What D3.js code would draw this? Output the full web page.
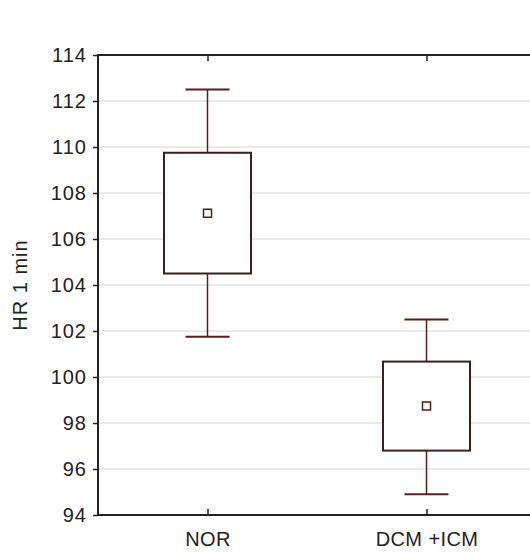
<!DOCTYPE html>
<html>
<head>
<meta charset="utf-8">
<script src="https://cdn.jsdelivr.net/npm/d3@7"></script>
<style>
  html, body { margin: 0; padding: 0; background: #fff; }
  svg { display: block; }
  text { font-family: "Liberation Sans", Arial, sans-serif; fill: #222; }
</style>
</head>
<body>
<svg id="chart" width="530" height="554"></svg>
<script>
// Heart rate after 1 minute, by group: mean, mean ± SE (box), mean ± 1.96·SE (whiskers)
const categories = ["NOR", "DCM +ICM"];
const means      = [107.12, 98.74];
const boxLow     = [104.5, 96.8];
const boxHigh    = [109.75, 100.67];
const whiskerLow = [101.75, 94.9];
const whiskerHigh= [112.5, 102.5];
const yTicks     = [94, 96, 98, 100, 102, 104, 106, 108, 110, 112, 114];
const yLabel     = "HR 1 min";

const svg = d3.select("#chart");
const margin = { left: 98, top: 55, right: -6, bottom: 39 };
const W = 530, H = 554;
const x0 = margin.left, x1 = W - margin.right;
const y0 = H - margin.bottom, y1 = margin.top;

const x = d3.scalePoint().domain(categories).range([x0, x1]).padding(0.5);
const y = d3.scaleLinear().domain([94, 114]).range([y0, y1]);

const boxColor = "#3c1e1e";
const whiskColor = "#5a1c1c";

// grid
svg.append("g")
  .selectAll("line").data(yTicks.filter(t => t !== 94 && t !== 114)).join("line")
  .attr("x1", x0).attr("x2", x1)
  .attr("y1", d => y(d)).attr("y2", d => y(d))
  .attr("stroke", "#d4d4d4").attr("stroke-width", 1);

// left axis
const yAxis = d3.axisLeft(y).tickValues(yTicks).tickSize(5).tickPadding(6).tickFormat(d3.format("d"));
const gy = svg.append("g").attr("transform", `translate(${x0},0)`).call(yAxis);
gy.select(".domain").remove();
gy.selectAll(".tick line").attr("stroke", "#222").attr("stroke-width", 1.5);
gy.selectAll(".tick text").attr("font-size", 20).attr("letter-spacing", "1px").attr("fill", "#222");

// bottom axis (ticks pointing inward)
const xAxis = d3.axisBottom(x).tickSize(-6).tickPadding(17);
const gx = svg.append("g").attr("transform", `translate(0,${y0})`).call(xAxis);
gx.select(".domain").remove();
gx.selectAll(".tick line").attr("stroke", "#222").attr("stroke-width", 1.5);
gx.selectAll(".tick text").attr("font-size", 20).attr("letter-spacing", "0.4px").attr("fill", "#222");

// top ticks pointing inward
const gt = svg.append("g").attr("transform", `translate(0,${y1})`).call(d3.axisTop(x).tickSize(-6).tickFormat(""));
gt.select(".domain").remove();
gt.selectAll(".tick line").attr("stroke", "#222").attr("stroke-width", 1.5);

// frame
svg.append("line").attr("x1", x0).attr("x2", x0).attr("y1", y1 - 1).attr("y2", y0 + 1)
  .attr("stroke", "#222").attr("stroke-width", 2);
svg.append("line").attr("x1", x0).attr("x2", x1).attr("y1", y0).attr("y2", y0)
  .attr("stroke", "#222").attr("stroke-width", 2);
svg.append("line").attr("x1", x0).attr("x2", x1).attr("y1", y1).attr("y2", y1)
  .attr("stroke", "#222").attr("stroke-width", 2);

// boxes and whiskers
const boxW = 87, capW = 44, meanS = 8;
const data = categories.map((c, i) => ({
  c, m: means[i], bl: boxLow[i], bh: boxHigh[i], wl: whiskerLow[i], wh: whiskerHigh[i]
}));
const g = svg.append("g").selectAll("g").data(data).join("g")
  .attr("transform", d => `translate(${x(d.c)},0)`);

g.append("line").attr("x1", 0).attr("x2", 0)
  .attr("y1", d => y(d.wh)).attr("y2", d => y(d.bh))
  .attr("stroke", whiskColor).attr("stroke-width", 1.5);
g.append("line").attr("x1", 0).attr("x2", 0)
  .attr("y1", d => y(d.bl)).attr("y2", d => y(d.wl))
  .attr("stroke", whiskColor).attr("stroke-width", 1.5);
g.append("line").attr("x1", -capW / 2).attr("x2", capW / 2)
  .attr("y1", d => y(d.wh)).attr("y2", d => y(d.wh))
  .attr("stroke", whiskColor).attr("stroke-width", 2);
g.append("line").attr("x1", -capW / 2).attr("x2", capW / 2)
  .attr("y1", d => y(d.wl)).attr("y2", d => y(d.wl))
  .attr("stroke", whiskColor).attr("stroke-width", 2);
g.append("rect").attr("x", -boxW / 2).attr("width", boxW)
  .attr("y", d => y(d.bh)).attr("height", d => y(d.bl) - y(d.bh))
  .attr("fill", "#fff").attr("stroke", boxColor).attr("stroke-width", 2);
g.append("rect").attr("x", -meanS / 2).attr("width", meanS)
  .attr("y", d => y(d.m) - meanS / 2).attr("height", meanS)
  .attr("fill", "#fff").attr("stroke", "#5a1a1a").attr("stroke-width", 1.5);

// y label
svg.append("text")
  .attr("transform", `translate(27,${(y0 + y1) / 2}) rotate(-90)`)
  .attr("text-anchor", "middle")
  .attr("font-size", 20).attr("letter-spacing", "1px")
  .text(yLabel);
</script>
</body>
</html>
